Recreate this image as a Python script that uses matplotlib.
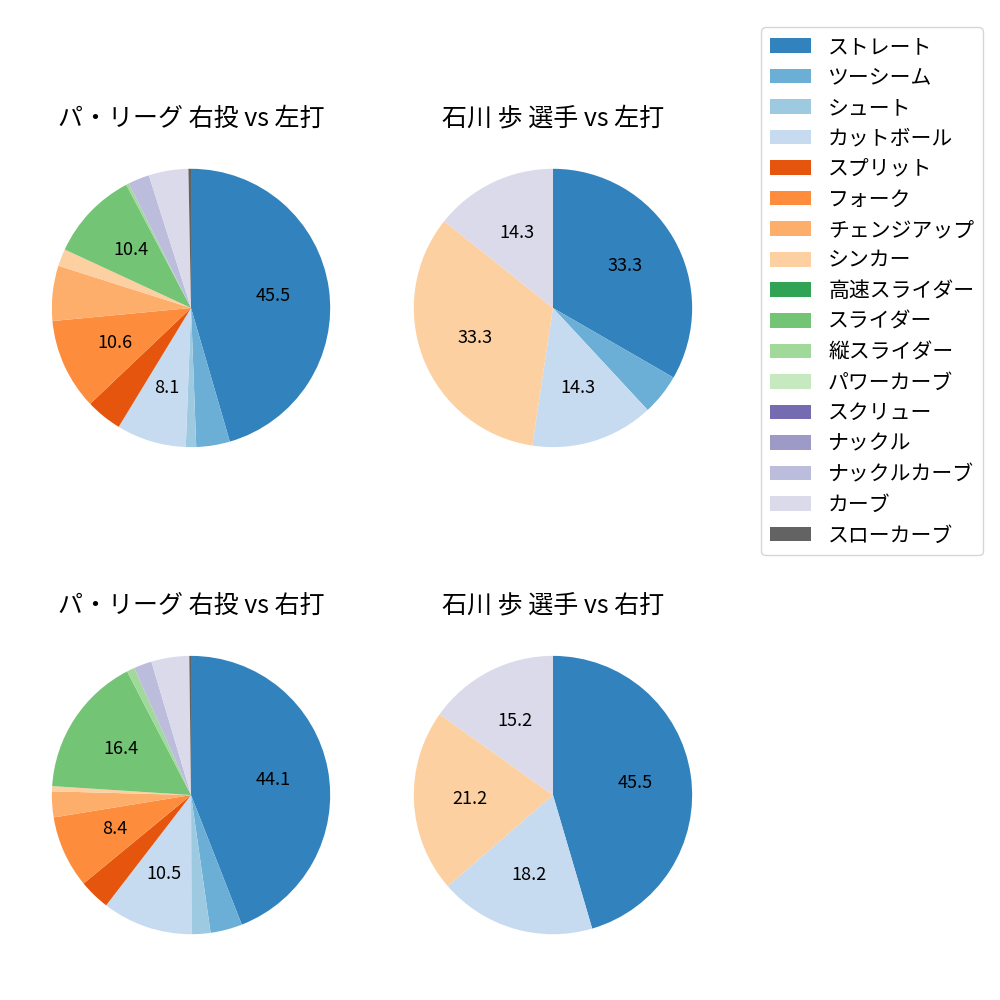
import matplotlib
matplotlib.use("Agg")
import matplotlib.pyplot as plt
from matplotlib.patches import Patch

plt.rcParams['font.family'] = ['Noto Sans CJK JP', 'DejaVu Sans']
plt.rcParams['font.size'] = 14

pitch_types = ['ストレート', 'ツーシーム', 'シュート', 'カットボール', 'スプリット', 'フォーク',
               'チェンジアップ', 'シンカー', '高速スライダー', 'スライダー', '縦スライダー',
               'パワーカーブ', 'スクリュー', 'ナックル', 'ナックルカーブ', 'カーブ', 'スローカーブ']
colors = ['#3182bd', '#6baed6', '#9ecae1', '#c6dbef', '#e6550d', '#fd8d3c', '#fdae6b',
          '#fdd0a2', '#31a354', '#74c476', '#a1d99b', '#c7e9c0', '#756bb1', '#9e9ac8',
          '#bcbddc', '#dadaeb', '#636363']

titles = ['パ・リーグ 右投 vs 左打', '石川 歩 選手 vs 左打',
          'パ・リーグ 右投 vs 右打', '石川 歩 選手 vs 右打']

league_vs_left = [45.5, 3.9, 1.2, 8.1, 4.2, 10.6, 6.4, 2.0, 0, 10.4, 0.3, 0, 0, 0, 2.5, 4.6, 0.3]
player_vs_left = [7, 1, 0, 3, 0, 0, 0, 7, 0, 0, 0, 0, 0, 0, 0, 3, 0]
league_vs_right = [44.1, 3.7, 2.2, 10.5, 3.6, 8.4, 3.0, 0.6, 0, 16.4, 0.9, 0, 0, 0, 2.1, 4.4, 0.2]
player_vs_right = [15, 0, 0, 6, 0, 0, 0, 7, 0, 0, 0, 0, 0, 0, 0, 5, 0]

datasets = [league_vs_left, player_vs_left, league_vs_right, player_vs_right]

fig, axes = plt.subplots(2, 2, figsize=(10, 10), dpi=100)
fig.subplots_adjust(left=0.017, right=0.727, top=0.866, bottom=0.031, wspace=0.04, hspace=0.4)


def autopct(p):
    return f'{p:.1f}' if p >= 7.5 else ''


for ax, data, title in zip(axes.flat, datasets, titles):
    vals = [v for v in data if v > 0]
    cols = [c for v, c in zip(data, colors) if v > 0]
    ax.pie(vals, colors=cols, startangle=90, counterclock=False, autopct=autopct,
           textprops={'fontsize': 13})
    ax.set_title(title, fontsize=18)

handles = [Patch(facecolor=c) for c in colors]
fig.legend(handles, pitch_types, loc='upper right', bbox_to_anchor=(0.993, 0.983),
           fontsize=15, labelspacing=0.41)

fig.savefig('out.png')
